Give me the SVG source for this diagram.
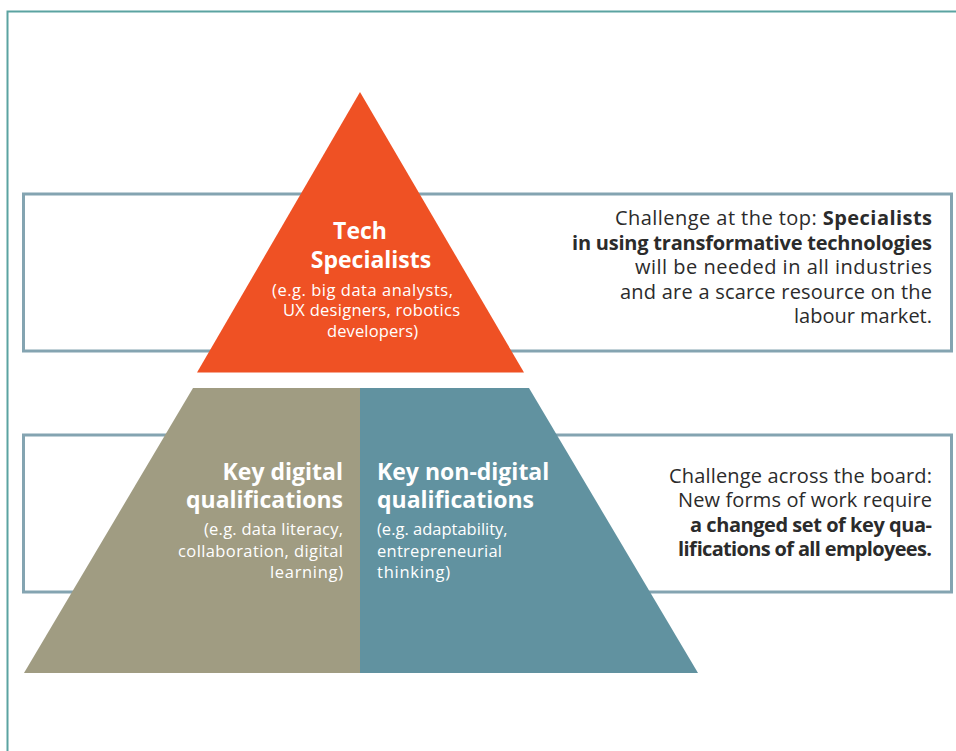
<svg xmlns="http://www.w3.org/2000/svg" width="956" height="751" viewBox="0 0 956 751">
<style>
.frame{fill:none;stroke:#5ba3a1;stroke-width:2}
.box{fill:none;stroke:#84a4b1;stroke-width:3}
.t{font-family:"Open Sans","Noto Sans",sans-serif;fill:#2b2b2b;font-size:20px}
.b{font-weight:bold}
.w{font-family:"Open Sans","Noto Sans",sans-serif;fill:#ffffff}
.h{font-size:23px;font-weight:bold}
.s{font-size:16.5px}
</style>
<rect width="956" height="751" fill="#ffffff"/>
<polyline class="frame" points="7.5,751 7.5,11.5 956,11.5"/>
<g id="connectors"></g>
<g id="boxes">
<rect id="box-top" class="box" x="23.5" y="194" width="928" height="157"/>
<rect id="box-bottom" class="box" x="23.5" y="435" width="928" height="157"/>
</g>
<g id="tech">
<polygon points="360,92 197,372.5 524,372.5" fill="#ef5124"/>
<text class="w h" x="360" y="239" text-anchor="middle">Tech</text>
<text class="w h" x="371" y="268" text-anchor="middle">Specialists</text>
<text class="w s" x="272" y="296" textLength="181">(e.g. big data analysts,</text>
<text class="w s" x="283" y="316" textLength="177">UX designers, robotics</text>
<text class="w s" x="327" y="337" textLength="91">developers)</text>
</g>
<g id="digital">
<polygon points="193,388 360,388 360,673 24,673" fill="#a09c82"/>
<text class="w h" x="343" y="480" text-anchor="end">Key digital</text>
<text class="w h" x="343" y="508" text-anchor="end">qualifications</text>
<text class="w s" x="204" y="535" textLength="139">(e.g. data literacy,</text>
<text class="w s" x="178" y="557" textLength="165">collaboration, digital</text>
<text class="w s" x="270" y="578" textLength="73">learning)</text>
</g>
<g id="nondigital">
<polygon points="360,388 529,388 698,673 360,673" fill="#6192a0"/>
<text class="w h" x="377" y="480">Key non-digital</text>
<text class="w h" x="377" y="508">qualifications</text>
<text class="w s" x="377" y="535">(e.g. adaptability,</text>
<text class="w s" x="377" y="557" textLength="125">entrepreneurial</text>
<text class="w s" x="377" y="578" textLength="73">thinking)</text>
</g>
<g id="challenge-top">
<text class="t" x="615" y="225" textLength="317">Challenge at the top: <tspan class="b">Specialists</tspan></text>
<text class="t b" x="572" y="250" textLength="360">in using transformative technologies</text>
<text class="t" x="635" y="274" textLength="297">will be needed in all industries</text>
<text class="t" x="620" y="299" textLength="312">and are a scarce resource on the</text>
<text class="t" x="932" y="323" text-anchor="end">labour market.</text>
</g>
<g id="challenge-board">
<text class="t" x="669" y="483" textLength="263">Challenge across the board:</text>
<text class="t" x="678" y="507" textLength="254">New forms of work require</text>
<text class="t b" x="690" y="532" textLength="242">a changed set of key qua-</text>
<text class="t b" x="678" y="556" textLength="254">lifications of all employees.</text>
</g>
</svg>
